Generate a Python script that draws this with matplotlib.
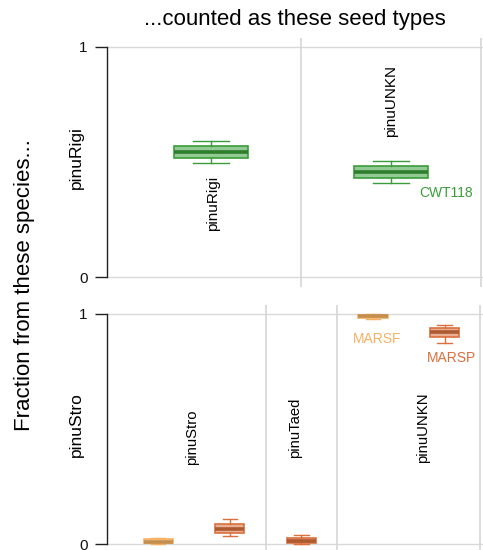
import matplotlib
matplotlib.use("Agg")
import matplotlib.pyplot as plt
from matplotlib.colors import to_rgba

plt.rcParams['font.family'] = ['Liberation Sans', 'DejaVu Sans']

# Upper row: species pinuRigi
top_species = "pinuRigi"
top_groups = ["pinuRigi", "pinuUNKN"]
top_types = ["", "CWT118"]
top_colors = ["#3a9d3a", "#3a9d3a"]
top_med = [0.542, 0.457]
top_q1 = [0.519, 0.430]
top_q3 = [0.570, 0.483]
top_lo = [0.497, 0.409]
top_hi = [0.591, 0.504]

# Lower row: species pinuStro
bot_species = "pinuStro"
bot_groups = ["pinuStro", "pinuTaed", "pinuUNKN"]
bot_group_sizes = [2, 1, 2]
bot_types = ["MARSF", "MARSP", "MARSP", "MARSF", "MARSP"]
bot_med = [0.010, 0.065, 0.013, 0.990, 0.920]
bot_q1 = [0.005, 0.048, 0.004, 0.983, 0.899]
bot_q3 = [0.020, 0.087, 0.026, 0.997, 0.939]
bot_lo = [0.000, 0.035, 0.000, 0.976, 0.874]
bot_hi = [0.025, 0.109, 0.039, 1.000, 0.953]

type_colors = {"MARSF": "#f5b163", "MARSP": "#d9703d", "CWT118": "#3a9d3a"}

W, H = 483, 550
fig = plt.figure(figsize=(W / 100, H / 100), dpi=100)

ax_top = fig.add_axes([107 / W, 1 - 287 / H, 376 / W, 249 / H])
ax_bot = fig.add_axes([107 / W, 0, 376 / W, 245 / H])


def darker(c, f=0.8):
    r, g, b, a = to_rgba(c)
    return (r * f, g * f, b * f, 1)


def draw_boxes(ax, med, q1, q3, lo, hi, colors):
    stats = []
    for i in range(len(med)):
        stats.append(dict(med=med[i], q1=q1[i], q3=q3[i],
                          whislo=lo[i], whishi=hi[i], fliers=[]))
    pos = list(range(1, len(med) + 1))
    art = ax.bxp(stats, positions=pos, widths=0.41, capwidths=0.2,
                 patch_artist=True, showfliers=False, manage_ticks=False)
    for i, c in enumerate(colors):
        art['boxes'][i].set_facecolor(to_rgba(c, 0.55))
        art['boxes'][i].set_edgecolor(c)
        art['boxes'][i].set_linewidth(1.2)
        art['medians'][i].set_color(darker(c))
        art['medians'][i].set_linewidth(2.6)
        for w in art['whiskers'][2 * i:2 * i + 2]:
            w.set_color(c)
            w.set_linewidth(1.0)
        for cp in art['caps'][2 * i:2 * i + 2]:
            cp.set_color(c)
            cp.set_linewidth(1.0)


def style_axis(ax, xlim, ylim, seps):
    ax.set_xlim(*xlim)
    ax.set_ylim(*ylim)
    for s in ['top', 'right', 'bottom']:
        ax.spines[s].set_visible(False)
    ax.spines['left'].set_bounds(0, 1)
    ax.spines['left'].set_color('#222222')
    ax.spines['left'].set_linewidth(1.0)
    ax.set_xticks([])
    ax.set_yticks([0, 1])
    ax.set_yticklabels(['0', '1'])
    ax.tick_params(axis='y', length=9, width=1.0, color='#222222',
                   labelsize=11, pad=5, labelcolor='#111111')
    for yv in (0, 1):
        ax.axhline(yv, color='#d9d9d9', lw=1.0, zorder=0)
    for xv in seps:
        ax.axvline(xv, color='#d6d6d6', lw=1.2, zorder=0)


# upper panel
draw_boxes(ax_top, top_med, top_q1, top_q3, top_lo, top_hi, top_colors)
style_axis(ax_top, (0.422, 2.511), (-0.043, 1.039), [1.5, 2.5])
ax_top.text(1.01, 0.32, top_groups[0], rotation=90, ha='center', va='center',
            fontsize=11)
ax_top.text(2.0, 0.765, top_groups[1], rotation=90, ha='center', va='center',
            fontsize=11)
ax_top.text(2.306, 0.365, top_types[1], ha='center', va='center',
            fontsize=10, color=type_colors["CWT118"])
ax_top.text(-0.08, 0.52, top_species, rotation=90, ha='center', va='center',
            fontsize=12.5, transform=ax_top.get_yaxis_transform())

# lower panel
bot_colors = [type_colors[t] for t in bot_types]
draw_boxes(ax_bot, bot_med, bot_q1, bot_q3, bot_lo, bot_hi, bot_colors)
edges = []
acc = 0.5
for n in bot_group_sizes:
    acc += n
    edges.append(acc)
style_axis(ax_bot, (0.285, 5.536), (-0.026, 1.039), edges)
bot_label_x = [1.472, 2.91, 4.70]
bot_label_y = [0.465, 0.504, 0.504]
for g, xv, yv in zip(bot_groups, bot_label_x, bot_label_y):
    ax_bot.text(xv, yv, g, rotation=90, ha='center', va='center', fontsize=10.7)
ax_bot.text(4.056, 0.89, "MARSF", ha='center', va='center', fontsize=10,
            color=type_colors["MARSF"])
ax_bot.text(5.10, 0.81, "MARSP", ha='center', va='center', fontsize=10,
            color=type_colors["MARSP"])
ax_bot.text(-0.08, 0.52, bot_species, rotation=90, ha='center', va='center',
            fontsize=12.5, transform=ax_bot.get_yaxis_transform())

fig.text(295 / W, 1 - 20 / H, "...counted as these seed types",
         ha='center', va='center', fontsize=16)
fig.text(25 / W, 1 - 285 / H, "Fraction from these species...",
         rotation=90, ha='center', va='center', fontsize=16)

fig.savefig("out.png", dpi=100)
